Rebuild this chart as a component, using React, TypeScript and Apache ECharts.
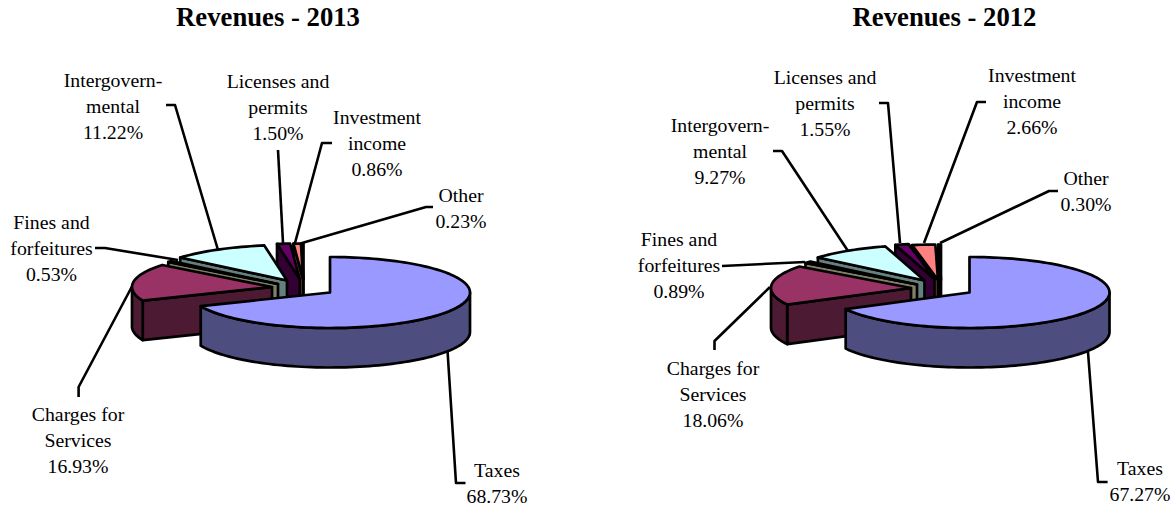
import React, { useEffect, useRef } from "react";
import * as echarts from "echarts";

const categories = [
  "Taxes",
  "Charges for\nServices",
  "Fines and\nforfeitures",
  "Intergovern-\nmental",
  "Licenses and\npermits",
  "Investment\nincome",
  "Other",
];
const values2013 = [68.73, 16.93, 0.53, 11.22, 1.5, 0.86, 0.23];
const values2012 = [67.27, 18.06, 0.89, 9.27, 1.55, 2.66, 0.3];
const titles = ["Revenues - 2013", "Revenues - 2012"];

const topColors = ["#9999FF", "#993366", "#FFFFCC", "#CCFFFF", "#660066", "#FF8080", "#0066CC"];
const sideColors = ["#4D4D80", "#4D1A33", "#808066", "#668080", "#330033", "#804040", "#003366"];

const FONT = '"Liberation Serif", "Times New Roman", serif';
const RX = 140;
const RY = 35.5;
const DEPTH = 39.5;
const TITLE_X = [263, 939.5];

// apex of each exploded slice on the page
const apex2013 = [[330, 292.5], [272, 287], [278, 284], [287, 280.5], [299.7, 279], [303, 279], [303.5, 279]];
const apex2012 = [[969.5, 292.5], [911, 288], [917, 284.5], [924.5, 280.5], [934.5, 279], [938, 280], [941, 280]];

// label centre x and first-line centre y
const labelPos2013 = [[497, 470], [78, 414], [51.5, 222], [113, 80], [278, 81], [377, 117], [461, 195]];
const labelPos2012 = [[1140, 468], [713, 368], [679, 239], [720, 125], [825, 77], [1032, 75], [1086, 178]];

const leaders2013 = [
  [[447.6, 352], [456, 483], [465.5, 483]],
  [[78.6, 397], [78.6, 387], [131.7, 287]],
  [[95, 248], [105, 248], [178, 260]],
  [[166, 105], [175, 105], [218, 250]],
  [[278, 150], [283, 243]],
  [[332, 143], [322, 143], [295, 243]],
  [[433, 207], [426, 207], [302, 243]],
];
const leaders2012 = [
  [[1088, 352], [1098, 482], [1107.6, 482]],
  [[714.5, 350], [714.5, 341], [770, 287]],
  [[722, 266], [805, 262]],
  [[773, 151], [782, 151], [848, 251]],
  [[879, 103], [888, 103], [900, 243]],
  [[986, 102], [977, 102], [924, 243]],
  [[1058, 191], [1049, 191], [940, 243]],
];

const rad = (d: number) => (d * Math.PI) / 180;

function arc(ax: number, ay: number, a: number, b: number, h: number) {
  const n = Math.max(2, Math.ceil(Math.abs(b - a) / 2));
  const pts: number[][] = [];
  for (let i = 0; i <= n; i++) {
    const t = rad(a + ((b - a) * i) / n);
    pts.push([ax + RX * Math.sin(t), ay - RY * Math.cos(t) + h]);
  }
  return pts;
}

function pieSeries(values: number[], apexes: number[][]) {
  let cum = 0;
  const rows = values.map((v, i) => {
    const row = [v, cum, cum + v, i];
    cum += v;
    return row;
  });
  const total = cum;
  const ordered = rows.slice().reverse();
  return {
    type: "custom",
    coordinateSystem: "none",
    silent: true,
    clip: false,
    data: ordered,
    renderItem: (_p: any, api: any) => {
      const s = (api.value(1) / total) * 360;
      const e = (api.value(2) / total) * 360;
      const idx = api.value(3);
      const [ax, ay] = apexes[idx];
      const base = { stroke: "#000", lineWidth: 2.7, lineJoin: "round" };
      const side = { ...base, fill: sideColors[idx] };
      const children: any[] = [];
      const wall = (t: number) => {
        const [p] = arc(ax, ay, t, t, 0);
        children.push({
          type: "polygon",
          shape: { points: [[ax, ay], p, [p[0], p[1] + DEPTH], [ax, ay + DEPTH]] },
          style: side,
        });
      };
      if (s > 180 && s < 360) wall(s);
      if (e > 0 && e < 180) wall(e);
      const a = Math.max(s, 90);
      const b = Math.min(e, 270);
      if (b > a) {
        const upper = arc(ax, ay, a, b, 0);
        const lower = arc(ax, ay, a, b, DEPTH).reverse();
        children.push({ type: "polygon", shape: { points: upper.concat(lower) }, style: side });
      }
      children.push({
        type: "polygon",
        shape: { points: [[ax, ay]].concat(arc(ax, ay, s, e, 0)) },
        style: { ...base, fill: topColors[idx] },
      });
      return { type: "group", children };
    },
  };
}

function labelGraphics(values: number[], pos: number[][]) {
  return values.map((v, i) => ({
    type: "text",
    x: pos[i][0],
    y: pos[i][1] - 13,
    z: 20,
    style: {
      text: `${categories[i]}\n${v.toFixed(2)}%`,
      font: `19.8px ${FONT}`,
      fill: "#000",
      align: "center",
      verticalAlign: "top",
      lineHeight: 26,
    },
  }));
}

function leaderGraphics(lines: number[][][]) {
  return lines.map((points) => ({
    type: "polyline",
    z: 15,
    shape: { points },
    style: { stroke: "#000", lineWidth: 2.6, fill: "none", lineJoin: "round" },
  }));
}

export default function App() {
  const ref = useRef<HTMLDivElement>(null);
  useEffect(() => {
    document.body.style.margin = "0";
    document.body.style.overflow = "hidden";
    const chart = echarts.init(ref.current!, null, { renderer: "svg" });
    chart.setOption({
      animation: false,
      backgroundColor: "#fff",
      title: titles.map((text, i) => ({
        text,
        left: TITLE_X[i],
        top: -2,
        textAlign: "center",
        textStyle: { fontFamily: FONT, fontSize: 26.7, fontWeight: "bold", color: "#000" },
      })),
      series: [pieSeries(values2013, apex2013), pieSeries(values2012, apex2012)],
      graphic: [
        ...leaderGraphics(leaders2013),
        ...leaderGraphics(leaders2012),
        ...labelGraphics(values2013, labelPos2013),
        ...labelGraphics(values2012, labelPos2012),
      ],
    });
    return () => chart.dispose();
  }, []);
  return <div ref={ref} style={{ width: 1171, height: 506 }} />;
}
